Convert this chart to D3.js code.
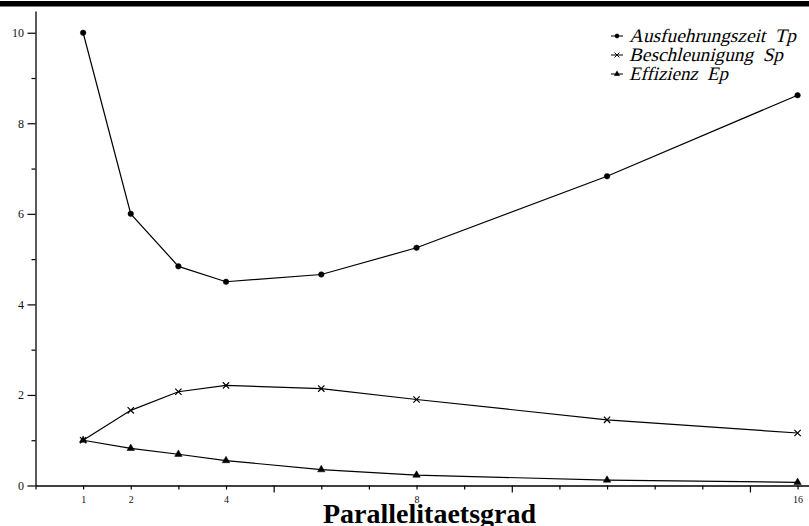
<!DOCTYPE html>
<html>
<head>
<meta charset="utf-8">
<script src="https://cdn.jsdelivr.net/npm/d3@7"></script>
<style>
  html, body { margin: 0; padding: 0; background: #fff; }
  svg { display: block; }
  .tick text { font-family: 'Liberation Serif', 'DejaVu Serif', serif; fill: #111; }
</style>
</head>
<body>
<div id="chart"></div>
<script>
// Parallelitaetsgrad p
const procs = [1, 2, 3, 4, 6, 8, 12, 16];
const tp = [10, 6.0, 4.84, 4.5, 4.66, 5.25, 6.83, 8.62];
const sp = [1, 1.66, 2.07, 2.21, 2.14, 1.9, 1.45, 1.16];
const ep = [1, 0.82, 0.69, 0.55, 0.35, 0.23, 0.12, 0.07];

const xTickValues = d3.range(0, 17);
const xLabels = [1, 2, 4, 8, 16];
const yTickValues = d3.range(0, 11);
const yLabels = [0, 2, 4, 6, 8, 10];

const seriesNames = ['Ausfuehrungszeit  Tp', 'Beschleunigung  Sp', 'Effizienz  Ep'];
const legendWidths = [167, 154, 99];

const width = 809;
const height = 526;

const x = d3.scaleLinear().domain([0, 16.24]).range([35.5, 809]);
const y = d3.scaleLinear().domain([0, 10.48]).range([485.5, 11]);

// x-shaped marker (d3.symbolTimes may not exist everywhere)
const symTimes = {
  draw(ctx, size) {
    const r = Math.sqrt(size) / 2;
    ctx.moveTo(-r, -r); ctx.lineTo(r, r);
    ctx.moveTo(r, -r); ctx.lineTo(-r, r);
  }
};

const series = [
  { name: seriesNames[0], values: tp, sym: d3.symbolCircle, size: 24, fill: true },
  { name: seriesNames[1], values: sp, sym: symTimes, size: 40, fill: false },
  { name: seriesNames[2], values: ep, sym: d3.symbolTriangle, size: 24, fill: true },
];

const svg = d3.select('#chart')
  .append('svg')
  .attr('width', width)
  .attr('height', height);

// thick bar at the very top
svg.append('rect')
  .attr('x', 0).attr('y', 1)
  .attr('width', width).attr('height', 5.5)
  .attr('fill', '#000');

// y axis
const yAxis = svg.append('g')
  .attr('transform', `translate(${x(0)},0)`)
  .call(d3.axisLeft(y)
    .tickValues(yTickValues)
    .tickSizeOuter(0)
    .tickPadding(4)
    .tickFormat(d => yLabels.includes(d) ? d : ''));
yAxis.select('.domain').attr('stroke-width', 1.3);
yAxis.selectAll('.tick line')
  .attr('x2', d => yLabels.includes(d) ? -8 : -4)
  .attr('stroke-width', 1.2);
yAxis.selectAll('.tick text')
  .attr('x', -11.5)
  .style('font-size', '12px');

// x axis
const xAxis = svg.append('g')
  .attr('transform', `translate(0,${y(0)})`)
  .call(d3.axisBottom(x)
    .tickValues(xTickValues)
    .tickSizeOuter(0)
    .tickFormat(d => xLabels.includes(d) ? d : ''));
xAxis.select('.domain').attr('stroke-width', 1.3);
xAxis.selectAll('.tick line')
  .attr('y2', d => (d % 5 === 0 && d > 0) ? 7 : 4)
  .attr('stroke-width', 1.2);
xAxis.selectAll('.tick text')
  .attr('y', 17)
  .attr('dy', 0)
  .style('font-size', '10px');

// axis title
svg.append('text')
  .attr('x', 323)
  .attr('y', 523)
  .attr('font-family', "'Liberation Serif', serif")
  .attr('font-weight', 'bold')
  .attr('font-size', 28)
  .attr('fill', '#000')
  .text('Parallelitaetsgrad');

const line = d3.line()
  .x((d, i) => x(procs[i]))
  .y(d => y(d));

series.forEach(s => {
  svg.append('path')
    .attr('d', line(s.values))
    .attr('fill', 'none')
    .attr('stroke', '#000')
    .attr('stroke-width', 1.2);

  svg.append('g')
    .selectAll('path')
    .data(s.values)
    .join('path')
    .attr('transform', (d, i) => `translate(${x(procs[i])},${y(d)})`)
    .attr('d', d3.symbol(s.sym, s.size))
    .attr('fill', s.fill ? '#000' : 'none')
    .attr('stroke', '#000')
    .attr('stroke-width', s.fill ? 0.5 : 1.2);
});

// legend
const legend = svg.append('g');
series.forEach((s, i) => {
  const by = 42 + i * 19;
  const my = by - 6;
  legend.append('line')
    .attr('x1', 611).attr('x2', 623)
    .attr('y1', my).attr('y2', my)
    .attr('stroke', '#000').attr('stroke-width', 1);
  legend.append('path')
    .attr('transform', `translate(617,${my})`)
    .attr('d', d3.symbol(s.sym, s.size * 0.6))
    .attr('fill', s.fill ? '#000' : 'none')
    .attr('stroke', '#000')
    .attr('stroke-width', s.fill ? 0.3 : 1);
  // serif italic is faked with a skew, the italic face is not available
  legend.append('text')
    .attr('transform', `translate(629,${by}) skewX(-14)`)
    .attr('font-family', "'Liberation Serif', serif")
    .attr('font-size', 19)
    .attr('fill', '#000')
    .attr('textLength', legendWidths[i])
    .attr('lengthAdjust', 'spacingAndGlyphs')
    .style('white-space', 'pre')
    .text(s.name);
});
</script>
</body>
</html>
